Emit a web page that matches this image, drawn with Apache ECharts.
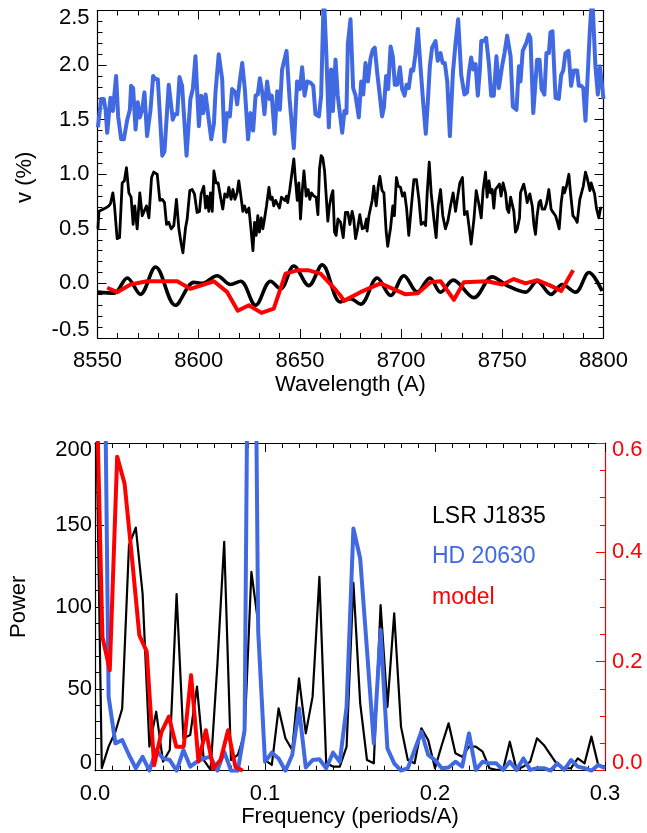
<!DOCTYPE html>
<html>
<head>
<meta charset="utf-8">
<script src="https://cdn.jsdelivr.net/npm/echarts@6/dist/echarts.min.js"></script>
<style>
html, body { margin: 0; padding: 0; background: #ffffff; }
#chart { width: 647px; height: 833px; }
</style>
</head>
<body>
<div id="chart"></div>
<script>
// ---------- Spectrum panel: circular polarisation v (%) vs wavelength ----------
// HD 20630 (offset upward)
const hdWave = [8550.2, 8551.8, 8553.1, 8554.0, 8554.8, 8555.6, 8556.4, 8557.6, 8559.2, 8560.2,
  8561.7, 8563.0, 8564.7, 8566.0, 8566.6, 8567.6, 8568.8, 8569.9, 8570.9, 8572.1,
  8573.2, 8574.5, 8576.2, 8577.5, 8578.7, 8579.8, 8582.0, 8583.1, 8585.2, 8586.1,
  8587.2, 8588.2, 8589.4, 8590.5, 8591.8, 8594.0, 8595.9, 8597.1, 8598.4, 8600.1,
  8601.2, 8602.2, 8603.4, 8604.2, 8606.2, 8607.5, 8608.3, 8609.9, 8611.6, 8612.7,
  8614.1, 8615.4, 8616.5, 8618.2, 8619.0, 8620.2, 8621.5, 8622.8, 8624.4, 8625.6,
  8626.9, 8628.1, 8629.2, 8630.2, 8631.4, 8632.5, 8633.8, 8635.0, 8636.1, 8637.5,
  8638.8, 8640.1, 8641.2, 8643.4, 8644.9, 8647.0, 8648.6, 8650.0, 8651.1, 8652.3,
  8653.6, 8655.2, 8656.6, 8657.7, 8659.4, 8660.5, 8661.8, 8663.0, 8664.3, 8665.4,
  8666.3, 8667.6, 8668.7,
  8670.9, 8672.0, 8673.0, 8673.7, 8675.0, 8676.3, 8677.5, 8679.1, 8680.3, 8681.3,
  8682.4, 8683.6, 8684.9, 8686.0, 8687.0, 8688.2, 8689.5, 8690.6, 8691.5, 8692.6,
  8693.6, 8694.8, 8695.9, 8696.9, 8698.1, 8699.4, 8700.5, 8701.7, 8702.7, 8703.8,
  8705.0, 8706.0, 8707.1, 8708.3, 8709.6, 8710.9, 8712.2, 8713.2, 8714.2, 8715.3,
  8717.0, 8718.1, 8719.5, 8720.5, 8721.6, 8722.8, 8724.1, 8725.6, 8726.9, 8728.2,
  8729.7, 8731.3, 8732.6, 8733.5, 8734.6, 8735.6, 8736.8, 8737.9, 8738.9, 8739.6,
  8740.9, 8742.0, 8743.4, 8744.5, 8745.8, 8747.1, 8748.3, 8749.9, 8751.1, 8752.4,
  8754.1, 8755.2, 8757.0, 8758.2, 8759.0, 8760.1, 8761.8, 8763.1, 8763.9, 8765.3,
  8767.2, 8768.4, 8769.4, 8770.8, 8771.8, 8773.0, 8773.8, 8774.8, 8776.3, 8777.9,
  8779.1, 8780.1, 8781.2, 8782.7, 8784.0, 8785.3, 8787.0, 8787.8, 8789.0, 8790.0,
  8791.1, 8792.3, 8793.2, 8794.4, 8796.0, 8797.2, 8798.2, 8799.3, 8800.0];
const hdV = [1.43, 1.69, 1.69, 1.59, 1.38, 1.38, 1.70, 1.58, 1.90, 1.53,
  1.32, 1.32, 1.50, 1.59, 1.81, 1.79, 1.41, 1.66, 1.52, 1.59,
  1.75, 1.35, 1.59, 1.90, 1.87, 1.87, 1.17, 1.21, 1.82, 1.82,
  1.50, 1.55, 1.55, 1.89, 1.81, 1.17, 1.69, 1.78, 2.08, 1.44,
  1.72, 1.56, 1.73, 1.73, 1.32, 1.46, 1.75, 2.10, 1.87, 1.30,
  1.56, 1.53, 1.78, 1.75, 1.64, 1.84, 2.02, 1.78, 1.32, 1.56,
  1.40, 1.72, 1.73, 1.88, 1.75, 1.55, 1.85, 1.69, 1.72, 1.37,
  1.76, 1.59, 1.96, 2.13, 1.69, 1.24, 1.85, 1.78, 1.98, 1.72,
  1.85, 1.84, 1.81, 1.55, 1.53, 1.72, 2.65, 2.14, 1.43, 1.96,
  1.58, 2.05, 1.72,
  1.38, 1.58, 1.56, 2.20, 2.42, 1.79, 1.72, 1.52, 1.85, 1.73,
  2.02, 1.85, 2.06, 2.14, 2.16, 1.93, 1.72, 1.53, 1.61, 1.90,
  1.78, 2.17, 2.08, 1.82, 1.82, 1.98, 1.78, 1.72, 1.82, 1.79,
  1.96, 1.95, 2.10, 2.33, 1.98, 1.66, 1.37, 1.66, 1.99, 2.16,
  2.22, 2.04, 2.11, 2.02, 2.02, 1.85, 1.35, 1.93, 2.20, 2.42,
  1.91, 1.73, 1.75, 1.93, 2.07, 1.96, 2.01, 1.72, 1.95, 2.22,
  2.22, 2.25, 2.01, 1.72, 1.72, 2.08, 1.79, 1.99, 2.11, 2.27,
  2.08, 1.62, 1.59, 1.99, 1.85, 2.13, 2.20, 2.28, 2.25, 1.56,
  2.05, 2.05, 1.78, 1.73, 2.11, 2.11, 2.30, 2.31, 1.70, 1.69,
  1.91, 1.95, 2.11, 2.13, 1.81, 1.95, 1.95, 1.81, 1.81, 1.79,
  1.49, 1.95, 2.30, 2.65, 1.99, 1.73, 1.99, 1.81, 1.69];

// LSR J1835 (observed)
const lsrWave = [8550.2, 8550.7, 8551.5, 8552.8, 8554.0, 8555.6, 8556.4, 8557.6, 8558.4, 8559.7,
  8560.9, 8562.2, 8563.3, 8564.3, 8565.5, 8566.6, 8567.6, 8568.4, 8569.6, 8570.9,
  8572.1, 8572.9, 8574.2, 8575.4, 8576.7, 8577.8, 8579.5, 8580.8, 8582.0, 8583.1,
  8584.1, 8585.2, 8586.4, 8587.7, 8589.0, 8590.2, 8591.3, 8592.2, 8593.5, 8594.3,
  8595.6, 8596.8, 8597.9, 8599.2, 8600.4, 8601.2, 8602.5, 8603.4, 8604.2, 8605.0,
  8605.8, 8606.7, 8607.5, 8608.6, 8609.6, 8610.8, 8611.9, 8612.9, 8614.1, 8614.9,
  8616.0, 8616.9, 8617.9, 8619.0, 8619.8, 8620.7, 8621.8, 8622.6, 8623.6, 8624.8,
  8625.6, 8626.8, 8627.6, 8628.4, 8629.2, 8630.0, 8630.9, 8631.7, 8632.5, 8633.5,
  8634.7, 8635.5, 8636.3, 8637.1, 8638.0, 8638.8, 8639.9, 8640.9, 8641.7, 8642.6,
  8643.4, 8644.0, 8645.0, 8646.2, 8647.0, 8647.8, 8648.7, 8649.5, 8650.3, 8651.1,
  8652.0, 8653.1, 8654.1, 8654.9, 8655.7, 8656.9, 8658.0, 8658.9, 8659.7, 8660.5,
  8661.3, 8662.2, 8663.0, 8663.8, 8664.6, 8665.5, 8666.3, 8667.1, 8667.9, 8668.8, 8669.6,
  8670.1, 8671.4, 8672.5, 8673.7, 8674.7, 8675.8, 8676.6, 8677.5, 8678.6, 8679.6,
  8680.8, 8681.9, 8682.9, 8683.2, 8684.1, 8685.7, 8686.5, 8687.7, 8688.7, 8689.5,
  8690.6, 8691.5, 8692.6, 8693.4, 8694.8, 8695.9, 8696.7, 8697.7, 8698.6, 8699.7,
  8700.7, 8701.7, 8702.7, 8703.8, 8705.0, 8706.3, 8707.6, 8708.8, 8709.9, 8711.2,
  8712.1, 8712.9, 8713.9, 8714.9, 8716.2, 8717.3, 8718.3, 8719.5, 8720.6, 8721.9,
  8723.1, 8724.4, 8725.7, 8726.9, 8728.0, 8729.0, 8730.3, 8731.3, 8732.6, 8733.5,
  8734.6, 8736.0, 8737.1, 8738.4, 8739.6, 8740.5, 8741.7, 8742.5, 8743.4, 8744.2,
  8745.0, 8745.8, 8746.6, 8747.5, 8748.6, 8749.4, 8750.4, 8751.6, 8752.4, 8753.2,
  8754.1, 8754.9, 8755.7, 8756.5, 8757.4, 8758.5, 8759.0, 8759.8, 8760.6, 8761.5,
  8762.3, 8763.6, 8764.8, 8765.6, 8766.4, 8767.2, 8768.1, 8768.9, 8769.7, 8770.9,
  8771.8, 8773.0, 8774.1, 8775.1, 8776.3, 8777.1, 8778.1, 8779.1, 8780.1, 8780.7,
  8781.7, 8782.9, 8783.7, 8784.9, 8786.2, 8787.0, 8788.3, 8789.0, 8790.0, 8791.1,
  8791.9, 8793.3, 8793.9, 8794.7, 8795.6, 8796.5, 8797.7, 8798.5, 8799.3];
const lsrV = [0.50, 0.66, 0.66, 0.68, 0.69, 0.71, 0.73, 0.83, 0.71, 0.41,
  0.42, 0.92, 0.94, 1.06, 0.83, 0.79, 0.54, 0.71, 0.50, 0.83,
  0.62, 0.63, 0.71, 0.60, 0.97, 1.02, 1.00, 0.76, 0.77, 0.74,
  0.54, 0.56, 0.50, 0.53, 0.77, 0.50, 0.37, 0.28, 0.51, 0.59,
  0.85, 0.86, 0.82, 0.65, 0.66, 0.82, 0.89, 0.69, 0.80, 0.66,
  0.83, 0.66, 1.03, 0.92, 0.92, 0.79, 0.68, 0.82, 0.79, 0.88,
  0.77, 0.86, 0.77, 0.83, 0.94, 0.82, 0.66, 0.71, 0.65, 0.69,
  0.54, 0.30, 0.56, 0.44, 0.62, 0.47, 0.60, 0.50, 0.59, 0.71,
  0.88, 0.77, 0.79, 0.71, 0.76, 0.73, 0.69, 0.79, 0.80, 0.76,
  0.80, 0.74, 0.86, 1.03, 1.14, 0.95, 0.76, 0.92, 0.59, 0.83,
  1.03, 0.80, 0.86, 0.77, 0.83, 0.80, 0.79, 0.63, 1.05, 1.17,
  1.15, 1.03, 0.80, 0.57, 0.71, 0.80, 0.85, 0.47, 0.44, 0.59, 0.60,
  0.56, 0.42, 0.65, 0.65, 0.54, 0.66, 0.59, 0.41, 0.51, 0.63,
  0.50, 0.51, 0.59, 0.48, 0.62, 0.76, 0.89, 0.71, 0.89, 0.98,
  0.85, 0.83, 0.48, 0.34, 0.51, 0.71, 0.62, 0.97, 0.89, 0.88,
  0.80, 0.83, 0.69, 0.44, 0.69, 0.95, 0.95, 0.77, 0.54, 0.56,
  0.53, 0.83, 1.11, 0.82, 0.59, 0.42, 0.71, 0.86, 0.62, 0.50,
  0.57, 0.71, 0.83, 0.66, 0.80, 0.92, 0.97, 0.63, 0.66, 0.53,
  0.36, 0.59, 0.85, 0.73, 0.60, 0.85, 1.02, 0.79, 0.94, 0.83,
  0.86, 0.69, 0.86, 0.85, 0.91, 0.80, 0.92, 0.83, 0.68, 0.65,
  0.79, 0.79, 0.66, 0.47, 0.50, 0.60, 0.83, 0.83, 0.91, 0.83,
  0.74, 0.82, 0.71, 0.54, 0.45, 0.62, 0.74, 0.76, 0.68, 0.68,
  0.73, 0.86, 0.68, 0.65, 0.62, 0.57, 0.50, 0.74, 0.88, 0.83,
  0.89, 1.00, 0.83, 0.62, 0.59, 0.56, 0.77, 0.77, 0.89, 1.02,
  0.97, 0.85, 0.92, 0.92, 0.82, 0.69, 0.60, 0.69, 0.69];

// LSR J1835 smoothed profile
const lsrSmoothWave = [8550.2, 8558.1, 8564.7, 8571.2, 8578.7, 8588.5, 8597.6, 8601.7, 8609.1, 8615.7,
  8620.7, 8628.1, 8635.5, 8640.4, 8647.0, 8654.4, 8661.0, 8670.0, 8675.0, 8680.0,
  8688.2, 8694.8, 8701.4, 8708.0, 8714.2, 8719.5, 8725.7, 8736.0, 8745.0, 8752.4,
  8761.5, 8767.2, 8774.1, 8779.6, 8786.2, 8792.8, 8799.3];
const lsrSmoothV = [-0.08, -0.09, 0.05, -0.10, 0.15, -0.20, 0.01, 0.00, 0.07, -0.01,
  0.02, -0.20, 0.02, -0.05, 0.16, -0.02, 0.17, -0.17, -0.14, -0.19,
  0.05, -0.11, 0.07, -0.08, 0.05, -0.08, 0.03, -0.13, 0.06, -0.02,
  -0.08, 0.02, -0.10, -0.01, -0.08, 0.10, -0.07];

// model
const modelWave = [8554.8, 8559.7, 8566.3, 8574.5, 8589.4, 8595.9, 8607.5, 8614.1, 8619.3, 8624.8,
  8631.0, 8637.1, 8642.9, 8648.7, 8654.4, 8660.2, 8666.8, 8670.0, 8671.7, 8679.9,
  8689.8, 8702.2, 8708.3, 8714.5, 8719.5, 8726.1, 8731.0, 8742.5, 8750.0, 8755.7,
  8761.5, 8767.2, 8773.8, 8779.1, 8785.0];
const modelV = [-0.04, -0.08, -0.01, 0.02, 0.02, -0.05, 0.02, -0.08, -0.25, -0.20,
  -0.27, -0.23, 0.09, 0.12, 0.12, 0.09, -0.04, -0.11, -0.16, -0.08,
  0.00, -0.10, -0.09, 0.01, 0.02, -0.15, 0.01, 0.02, -0.01, 0.04,
  0.00, 0.03, -0.02, -0.07, 0.12];

// ---------- Periodogram panel ----------
const powerFreq = [0, 0.004, 0.008, 0.012, 0.016, 0.02, 0.024, 0.028, 0.032, 0.036,
  0.04, 0.044, 0.048, 0.052, 0.056, 0.06, 0.064, 0.068, 0.072, 0.076,
  0.08, 0.084, 0.088, 0.092, 0.096, 0.1, 0.104, 0.108, 0.112, 0.116,
  0.12, 0.124, 0.128, 0.132, 0.136, 0.14, 0.144, 0.148, 0.152, 0.156,
  0.16, 0.164, 0.168, 0.172, 0.176, 0.18, 0.184, 0.188, 0.192, 0.196,
  0.2, 0.204, 0.208, 0.212, 0.216, 0.22, 0.224, 0.228, 0.232, 0.236,
  0.24, 0.244, 0.248, 0.252, 0.256, 0.26, 0.264, 0.268, 0.272, 0.276,
  0.28, 0.284, 0.288, 0.292, 0.296, 0.3];
const lsrPower = [265, 1.5, 14.7, 23.8, 38, 137.7, 148.4, 108, 14.7, 36,
  5.5, 12.6, 107.8, 19.8, 21.8, 51.3, 6.5, 0.5, 65, 139.7,
  6.5, 9.6, 22.8, 121.4, 90, 6.5, 3.5, 38, 19.8, 12.6,
  56.3, 22.8, 45.2, 118.3, 4.5, 2.5, 2.5, 14.7, 114.7, 41.1,
  6.5, 4.5, 101, 39, 96, 26.9, 6.5, 4.5, 25.9, 18.7,
  1.5, 15.7, 28.9, 10.6, 8.5, 14.7, 14.7, 11.6, 1.5, 0.5,
  0.5, 17.7, 0.5, 2.5, 5.5, 19.8, 15.7, 9.6, 3.5, 1.5,
  1.5, 7.5, 4.5, 20.8, 3.5, 2.5];
const hdPower = [700, 420, 45.2, 16.7, 18.7, 9.6, 1.5, 8.5, 0, 12.6,
  7.5, 6.5, 0, 12.6, 2.5, 5.5, 7.5, 8.5, 0, 11.6,
  0, 0, 24.8, 546, 85, 5.5, 11, 7.5, 0, 9.6,
  38, 2, 6.5, 7, 1.5, 11, 5.5, 39, 147.8, 129.5,
  73.6, 16.7, 85.8, 13.6, 4.5, 0, 1.5, 12.6, 23.8, 9.6,
  6.5, 1.5, 2, 5.5, 2.5, 22.8, 0.5, 5.5, 4.5, 4.5,
  0.5, 5.5, 0.5, 7.5, 0.5, 1.5, 1.5, 0, 4.5, 0.5,
  6.5, 2.5, 1.5, 0, 3.5, 1.5];
const modelFreq = [0, 0.00435, 0.0087, 0.01304, 0.01739, 0.02174, 0.02609, 0.03043, 0.03478, 0.03913,
  0.04348, 0.04783, 0.05217, 0.05652, 0.06087, 0.06522, 0.06957, 0.07391, 0.07826, 0.08261, 0.08696];
const modelPower = [0.83, 0.245, 0.184, 0.575, 0.526, 0.39, 0.248, 0.218, 0.010, 0.071,
  0.099, 0.044, 0.044, 0.175, 0.017, 0.074, 0.004, 0.020, 0.074, 0.007, 0.0];

const legendNames = ['LSR J1835', 'HD 20630', 'model'];

// ---------- styling ----------
const FONT = '"Liberation Sans", Arial, Helvetica, sans-serif';
const BLUE = '#4169e1';
const RED = '#ff0000';
const BLACK = '#000000';
const FS = 22;

const pairs = (xs, ys) => xs.map((x, i) => [x, ys[i]]);

// Extreme tick labels sit flush inside the frame ends.
function edgeFormatter(min, max, digits) {
  return function (v) {
    const s = digits == null ? String(v) : v.toFixed(digits);
    if (Math.abs(v - max) < 1e-9) return '{hi|' + s + '}';
    if (Math.abs(v - min) < 1e-9) return '{lo|' + s + '}';
    return s;
  };
}
function edgeRich(color) {
  return {
    hi: { padding: [14, 0, 0, 0], fontSize: FS, fontFamily: FONT, color: color },
    lo: { padding: [0, 0, 16, 0], fontSize: FS, fontFamily: FONT, color: color }
  };
}

function valueAxis(cfg) {
  const color = cfg.color || BLACK;
  const ax = {
    type: 'value',
    gridIndex: cfg.grid,
    position: cfg.position,
    min: cfg.min,
    max: cfg.max,
    interval: cfg.interval,
    axisLine: { show: true, onZero: false, lineStyle: { color: color, width: 1.2 } },
    axisTick: { show: true, inside: true, length: 9, lineStyle: { color: color, width: 1 } },
    minorTick: { show: true, splitNumber: cfg.minor, length: 5, lineStyle: { color: color, width: 1 } },
    splitLine: { show: false },
    minorSplitLine: { show: false },
    axisLabel: { show: false }
  };
  if (cfg.labels) {
    ax.axisLabel = {
      show: true,
      margin: cfg.margin,
      fontSize: FS,
      fontFamily: FONT,
      color: color,
      formatter: cfg.formatter,
      rich: cfg.rich
    };
  }
  if (cfg.name) {
    ax.name = cfg.name;
    ax.nameLocation = 'middle';
    ax.nameGap = cfg.nameGap;
    ax.nameTextStyle = { fontSize: FS, fontFamily: FONT, color: BLACK, padding: cfg.namePadding || 0 };
  }
  return ax;
}

const chart = echarts.init(document.getElementById('chart'), null, { renderer: 'canvas' });

const option = {
  animation: false,
  backgroundColor: '#ffffff',
  grid: [
    { left: 97.5, right: 43.5, top: 10.5, height: 327.5 },
    { left: 84.3, right: 42, top: 443, height: 327.7 }
  ],
  xAxis: [
    valueAxis({ grid: 0, position: 'bottom', min: 8550, max: 8800, interval: 50, minor: 5,
      labels: true, margin: 12, formatter: v => String(v),
      name: 'Wavelength (A)', nameGap: 36 }),
    valueAxis({ grid: 0, position: 'top', min: 8550, max: 8800, interval: 50, minor: 5 }),
    valueAxis({ grid: 1, position: 'bottom', min: 0, max: 0.3, interval: 0.1, minor: 10,
      labels: true, margin: 12, formatter: v => v.toFixed(1),
      name: 'Frequency (periods/A)', nameGap: 34 }),
    valueAxis({ grid: 1, position: 'top', min: 0, max: 0.3, interval: 0.1, minor: 10 })
  ],
  yAxis: [
    valueAxis({ grid: 0, position: 'left', min: -0.5, max: 2.5, interval: 0.5, minor: 5,
      labels: true, margin: 8, formatter: edgeFormatter(-0.5, 2.5, 1), rich: edgeRich(BLACK),
      name: 'v (%)', nameGap: 62, namePadding: [0, 6, 0, 0] }),
    valueAxis({ grid: 0, position: 'right', min: -0.5, max: 2.5, interval: 0.5, minor: 5 }),
    valueAxis({ grid: 1, position: 'left', min: 0, max: 200, interval: 50, minor: 5,
      labels: true, margin: 3, formatter: edgeFormatter(0, 200, null), rich: edgeRich(BLACK),
      name: 'Power', nameGap: 65 }),
    valueAxis({ grid: 1, position: 'right', min: 0, max: 0.6, interval: 0.2, minor: 4,
      color: RED, labels: true, margin: 7, formatter: edgeFormatter(0, 0.6, 1), rich: edgeRich(RED) })
  ],
  series: [
    {
      name: 'HD 20630 spectrum', type: 'line', xAxisIndex: 0, yAxisIndex: 0,
      data: pairs(hdWave, hdV), showSymbol: false, clip: true,
      lineStyle: { color: BLUE, width: 4, join: 'round' }
    },
    {
      name: 'LSR J1835 spectrum', type: 'line', xAxisIndex: 0, yAxisIndex: 0,
      data: pairs(lsrWave, lsrV), showSymbol: false, clip: true,
      lineStyle: { color: BLACK, width: 2.8, join: 'round' }
    },
    {
      name: 'LSR J1835 smoothed', type: 'line', xAxisIndex: 0, yAxisIndex: 0,
      data: pairs(lsrSmoothWave, lsrSmoothV), showSymbol: false, clip: true, smooth: 0.35,
      lineStyle: { color: BLACK, width: 3.6, join: 'round' }
    },
    {
      name: 'model spectrum', type: 'line', xAxisIndex: 0, yAxisIndex: 0,
      data: pairs(modelWave, modelV), showSymbol: false, clip: true,
      lineStyle: { color: RED, width: 4, join: 'round' }
    },
    {
      name: legendNames[0], type: 'line', xAxisIndex: 2, yAxisIndex: 2,
      data: pairs(powerFreq, lsrPower), showSymbol: false, clip: true,
      lineStyle: { color: BLACK, width: 2.2, join: 'round' }
    },
    {
      name: legendNames[1], type: 'line', xAxisIndex: 2, yAxisIndex: 2,
      data: pairs(powerFreq, hdPower), showSymbol: false, clip: true,
      lineStyle: { color: BLUE, width: 4, join: 'round' }
    },
    {
      name: legendNames[2], type: 'line', xAxisIndex: 2, yAxisIndex: 3,
      data: pairs(modelFreq, modelPower), showSymbol: false, clip: true,
      lineStyle: { color: RED, width: 4, join: 'round' }
    }
  ],
  graphic: [
    { type: 'text', x: 432, y: 517, style: { text: legendNames[0], fill: BLACK, font: '23px ' + FONT, verticalAlign: 'middle' } },
    { type: 'text', x: 432, y: 557, style: { text: legendNames[1], fill: BLUE, font: '23px ' + FONT, verticalAlign: 'middle' } },
    { type: 'text', x: 432, y: 598, style: { text: legendNames[2], fill: RED, font: '23px ' + FONT, verticalAlign: 'middle' } }
  ]
};

chart.setOption(option);
</script>
</body>
</html>
